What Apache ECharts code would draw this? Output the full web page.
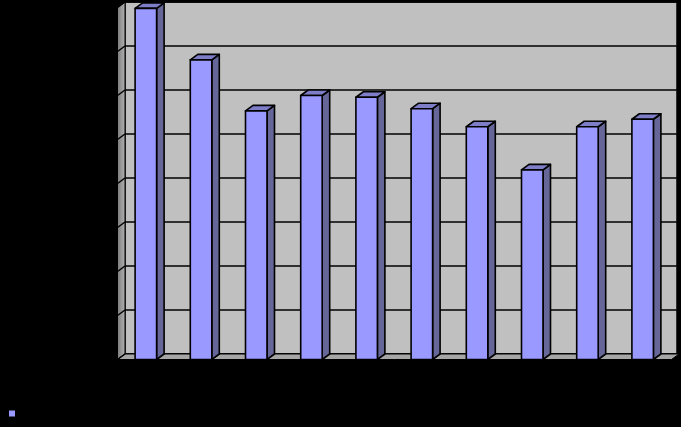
<!DOCTYPE html>
<html>
<head>
<meta charset="utf-8">
<script src="https://cdn.jsdelivr.net/npm/echarts@6/dist/echarts.min.js"></script>
<style>
  html, body { margin: 0; padding: 0; background: #000; }
  #chart { width: 681px; height: 427px; }
</style>
</head>
<body>
<div id="chart"></div>
<script>
    const categories = ["1", "2", "3", "4", "5", "6", "7", "8", "9", "10"];
    const values = [7.98, 6.81, 5.65, 6.0, 5.96, 5.7, 5.29, 4.31, 5.29, 5.46];
    const yTicks = [0, 1, 2, 3, 4, 5, 6, 7, 8];

    // depth of the fake 3d look, in pixels
    const DX = 7.5;
    const DY = 5.5;
    const BAR_W = 21.5;

    const chart = echarts.init(document.getElementById("chart"));

    function renderBar(params, api) {
        const cx = api.coord([api.value(0), 0])[0];
        const yTop = api.coord([api.value(0), api.value(1)])[1];
        const yBase = api.coord([api.value(0), 0])[1];
        // back face of the bar
        const bl = cx - 10, br = bl + BAR_W;
        // front face
        const fl = bl - DX, fr = br - DX;
        const line = { stroke: "#000", lineWidth: 1.6, lineJoin: "round" };
        return {
            type: "group",
            children: [
                {
                    type: "polygon",
                    shape: { points: [[fr, yTop + DY], [br, yTop], [br, yBase], [fr, yBase + DY]] },
                    style: Object.assign({ fill: "#666699" }, line)
                },
                {
                    type: "polygon",
                    shape: { points: [[fl, yTop + DY], [bl, yTop], [br, yTop], [fr, yTop + DY]] },
                    style: Object.assign({ fill: "#7d7dc8" }, line)
                },
                {
                    type: "rect",
                    shape: { x: fl, y: yTop + DY, width: BAR_W, height: yBase - yTop },
                    style: Object.assign({ fill: "#9999ff" }, line)
                }
            ]
        };
    }

    function renderWalls(params, api) {
        const cs = params.coordSys;
        const y = api.coord([0, api.value(0)])[1];
        const children = [];
        if (params.dataIndex === 0) {
            // left wall
            children.push({
                type: "polygon",
                shape: { points: [[cs.x, cs.y], [cs.x, cs.y + cs.height], [cs.x - DX, cs.y + cs.height + DY], [cs.x - DX, cs.y + DY]] },
                style: {
                    fill: new echarts.graphic.LinearGradient(0, 0, 1, 0, [
                        { offset: 0, color: "#7a7a7a" },
                        { offset: 1, color: "#b4b4b4" }
                    ]),
                    stroke: "#000",
                    lineWidth: 1
                }
            });
            // floor
            children.push({
                type: "polygon",
                shape: { points: [[cs.x, cs.y + cs.height], [cs.x + cs.width + 2, cs.y + cs.height], [cs.x + cs.width + 2 - DX, cs.y + cs.height + DY], [cs.x - DX, cs.y + cs.height + DY]] },
                style: { fill: "#a6a6a6", stroke: "#000", lineWidth: 1 }
            });
        }
        // grid line continued on the side wall
        children.push({
            type: "line",
            shape: { x1: cs.x, y1: y, x2: cs.x - DX, y2: y + DY },
            style: { stroke: "#000", lineWidth: 1.5 }
        });
        return { type: "group", children: children };
    }

    const option = {
        backgroundColor: "#000",
        animation: false,
        grid: {
            left: 125,
            right: 4,
            top: 2,
            bottom: 73,
            show: true,
            backgroundColor: "#c0c0c0",
            borderColor: "#000",
            borderWidth: 1.5
        },
        legend: {
            left: 4,
            top: 403,
            icon: "rect",
            itemWidth: 6,
            itemHeight: 6,
            data: ["Series1"],
            textStyle: { color: "#000", fontSize: 11 }
        },
        xAxis: {
            type: "category",
            data: categories,
            axisLine: { show: false },
            axisTick: { show: false },
            axisLabel: { show: false }
        },
        yAxis: {
            type: "value",
            min: 0,
            max: 8,
            interval: 1,
            axisLine: { show: false },
            axisTick: { show: false },
            axisLabel: { show: false },
            splitLine: { lineStyle: { color: "#000", width: 1.5 } }
        },
        series: [
            {
                name: "walls",
                type: "custom",
                renderItem: renderWalls,
                data: yTicks.map(t => [t]),
                encode: { y: 0 },
                z: 1,
                silent: true
            },
            {
                name: "Series1",
                type: "custom",
                renderItem: renderBar,
                itemStyle: { color: "#9999ff" },
                data: values.map((v, i) => [i, v]),
                encode: { x: 0, y: 1 },
                z: 3
            }
        ]
    };

    chart.setOption(option);
</script>
</body>
</html>
